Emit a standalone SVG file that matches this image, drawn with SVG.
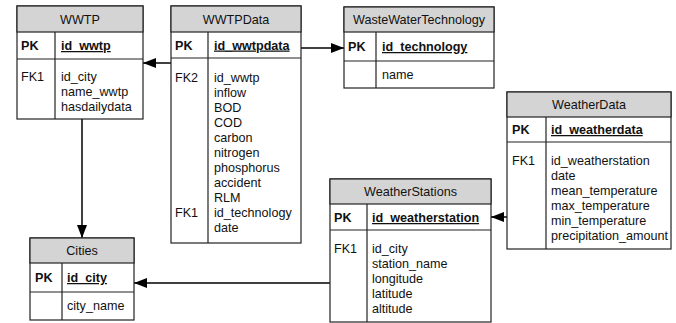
<svg xmlns="http://www.w3.org/2000/svg" width="676" height="323" viewBox="0 0 676 323">
  <style>
    text { font-family: "Liberation Sans", Arial, sans-serif; font-size: 12.6px; fill: #111; }
    .box { fill: #fff; stroke: #222; stroke-width: 1.2; }
    .head { fill: #d4d4d4; stroke: #222; stroke-width: 1.2; }
    .sep { stroke: #222; stroke-width: 1.2; fill: none; }
    .title { text-anchor: middle; }
    .pk { font-weight: bold; }
    .key { font-weight: bold; text-decoration: underline; }
    .link { stroke: #000; stroke-width: 1.5; fill: none; marker-end: url(#arrow); }
  </style>
  <defs>
    <marker id="arrow" markerUnits="userSpaceOnUse" markerWidth="13" markerHeight="10" refX="13" refY="5" orient="auto">
      <path d="M0,0 L13,5 L0,10 z" fill="#000"/>
    </marker>
  </defs>

  <g id="connectors">
    <line class="link" x1="171" y1="63" x2="143" y2="63"/>
    <line class="link" x1="301" y1="48" x2="344" y2="48"/>
    <line class="link" x1="82" y1="119" x2="82" y2="238"/>
    <line class="link" x1="330" y1="283" x2="134" y2="283"/>
    <line class="link" x1="507" y1="217" x2="491" y2="217"/>
  </g>

  <!-- WWTP -->
  <g id="WWTP">
    <rect class="box" x="17" y="6" width="126" height="113"/>
    <rect class="head" x="17" y="6" width="126" height="26"/>
    <line class="sep" x1="17" y1="59" x2="143" y2="59"/>
    <line class="sep" x1="55" y1="32" x2="55" y2="119"/>
    <text class="title" x="80" y="23.5">WWTP</text>
    <text class="pk" x="21" y="50">PK</text>
    <text class="key" x="61" y="50">id_wwtp</text>
    <text x="21" y="81">FK1</text>
    <text x="61" y="81">id_city</text>
    <text x="61" y="96">name_wwtp</text>
    <text x="61" y="111">hasdailydata</text>
  </g>

  <!-- WWTPData -->
  <g id="WWTPData">
    <rect class="box" x="171" y="6" width="130" height="237"/>
    <rect class="head" x="171" y="6" width="130" height="26"/>
    <line class="sep" x1="171" y1="58" x2="301" y2="58"/>
    <line class="sep" x1="208" y1="32" x2="208" y2="243"/>
    <text class="title" x="236" y="23.5">WWTPData</text>
    <text class="pk" x="175" y="49.5">PK</text>
    <text class="key" x="214" y="49.5">id_wwtpdata</text>
    <text x="175" y="81.5">FK2</text>
    <text x="214" y="81.5">id_wwtp</text>
    <text x="214" y="96.5">inflow</text>
    <text x="214" y="111.5">BOD</text>
    <text x="214" y="126.5">COD</text>
    <text x="214" y="141.5">carbon</text>
    <text x="214" y="156.5">nitrogen</text>
    <text x="214" y="171.5">phosphorus</text>
    <text x="214" y="186.5">accident</text>
    <text x="214" y="201.5">RLM</text>
    <text x="175" y="216.5">FK1</text>
    <text x="214" y="216.5">id_technology</text>
    <text x="214" y="231.5">date</text>
  </g>

  <!-- WasteWaterTechnology -->
  <g id="WasteWaterTechnology">
    <rect class="box" x="344" y="7" width="150" height="81"/>
    <rect class="head" x="344" y="7" width="150" height="25"/>
    <line class="sep" x1="344" y1="61" x2="494" y2="61"/>
    <line class="sep" x1="376" y1="32" x2="376" y2="88"/>
    <text class="title" x="419" y="24">WasteWaterTechnology</text>
    <text class="pk" x="348" y="51">PK</text>
    <text class="key" x="382" y="51">id_technology</text>
    <text x="382" y="79">name</text>
  </g>

  <!-- WeatherData -->
  <g id="WeatherData">
    <rect class="box" x="507" y="92" width="164" height="157"/>
    <rect class="head" x="507" y="92" width="164" height="25"/>
    <line class="sep" x1="507" y1="142" x2="671" y2="142"/>
    <line class="sep" x1="546" y1="117" x2="546" y2="249"/>
    <text class="title" x="589" y="109">WeatherData</text>
    <text class="pk" x="512" y="134">PK</text>
    <text class="key" x="551" y="134">id_weatherdata</text>
    <text x="512" y="165">FK1</text>
    <text x="551" y="165">id_weatherstation</text>
    <text x="551" y="180">date</text>
    <text x="551" y="195">mean_temperature</text>
    <text x="551" y="210">max_temperature</text>
    <text x="551" y="225">min_temperature</text>
    <text x="551" y="240">precipitation_amount</text>
  </g>

  <!-- WeatherStations -->
  <g id="WeatherStations">
    <rect class="box" x="330" y="179" width="161" height="143"/>
    <rect class="head" x="330" y="179" width="161" height="25"/>
    <line class="sep" x1="330" y1="230" x2="491" y2="230"/>
    <line class="sep" x1="367" y1="204" x2="367" y2="322"/>
    <text class="title" x="410.5" y="196">WeatherStations</text>
    <text class="pk" x="334" y="222">PK</text>
    <text class="key" x="372" y="222">id_weatherstation</text>
    <text x="334" y="253">FK1</text>
    <text x="372" y="253">id_city</text>
    <text x="372" y="268">station_name</text>
    <text x="372" y="283">longitude</text>
    <text x="372" y="298">latitude</text>
    <text x="372" y="313">altitude</text>
  </g>

  <!-- Cities -->
  <g id="Cities">
    <rect class="box" x="30" y="238" width="104" height="82"/>
    <rect class="head" x="30" y="238" width="104" height="25"/>
    <line class="sep" x1="30" y1="292" x2="134" y2="292"/>
    <line class="sep" x1="62" y1="263" x2="62" y2="320"/>
    <text class="title" x="82" y="255">Cities</text>
    <text class="pk" x="35" y="282">PK</text>
    <text class="key" x="67" y="282">id_city</text>
    <text x="67" y="310">city_name</text>
  </g>
</svg>
